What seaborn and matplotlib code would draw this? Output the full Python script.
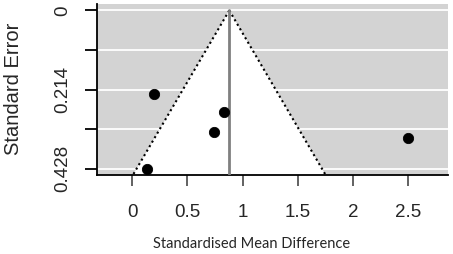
import numpy as np
import pandas as pd
import matplotlib
matplotlib.use("Agg")
import matplotlib.pyplot as plt
import seaborn as sns

# study estimates
smd = [0.195, 0.828, 0.738, 0.136, 2.495]
se = [0.2265, 0.276, 0.328, 0.428, 0.344]
pooled = 0.88

yticks = [0, 0.107, 0.214, 0.321, 0.428]
ytick_labels = ["0", "", "0.214", "", "0.428"]
xticks = [0, 0.5, 1, 1.5, 2, 2.5]
xtick_labels = ["0", "0.5", "1", "1.5", "2", "2.5"]

df = pd.DataFrame({"smd": smd, "se": se})

sns.set_style("ticks")
plt.rcParams["font.family"] = ["Liberation Sans", "DejaVu Sans"]

fig = plt.figure(figsize=(4.53, 2.54), dpi=100)
ax = fig.add_axes([0.2135, 0.311, 0.989 - 0.2135, 0.984 - 0.311])

xlim = (-0.32, 2.86)
ylim = (0.428 * 1.04, -0.428 * 0.04)
ax.set_xlim(xlim)
ax.set_ylim(ylim)
ax.set_facecolor("#d3d3d3")

# white grid lines at the y ticks
for yv in yticks:
    ax.axhline(yv, color="white", lw=1.3, zorder=1)

# funnel region (pseudo 95% CI)
se_vals = np.array([0, ylim[0]])
left = pooled - 1.96 * se_vals
right = pooled + 1.96 * se_vals
ax.fill([left[0], left[1], right[1]], [0, se_vals[1], se_vals[1]], color="white", zorder=2, lw=0)
ax.plot(left, se_vals, color="black", ls=(0, (1, 1.5)), lw=1.5, zorder=3)
ax.plot(right, se_vals, color="black", ls=(0, (1, 1.5)), lw=1.5, zorder=3)
ax.plot([pooled, pooled], [0, ylim[0]], color="#808080", lw=2, zorder=3)

sns.scatterplot(data=df, x="smd", y="se", ax=ax, color="black", s=55,
                edgecolor="black", zorder=4, legend=False)

for s in ["top", "right"]:
    ax.spines[s].set_visible(False)
for s in ["left", "bottom"]:
    ax.spines[s].set_color("black")
    ax.spines[s].set_linewidth(1.3)

ax.set_yticks(yticks)
ax.set_yticklabels(ytick_labels, rotation=90, va="center", fontsize=13.5)
ax.set_xticks(xticks)
ax.set_xticklabels(xtick_labels, fontsize=13.5)
ax.tick_params(axis="y", direction="out", length=9, width=1.3, color="black", pad=9)
ax.tick_params(axis="x", direction="out", length=8, width=1.3, color="#555555", pad=13)

ax.set_xlabel("")
ax.set_ylabel("")
fig.text(14 / 453, 1 - 89 / 254, "Standard Error", rotation=90, ha="center", va="center", fontsize=14.5)
fig.text(252 / 453, 1 - 244 / 254, "Standardised Mean Difference", ha="center", va="center",
         fontsize=10.5, family=["Lato", "DejaVu Sans"])

fig.savefig("out.png", dpi=100)
